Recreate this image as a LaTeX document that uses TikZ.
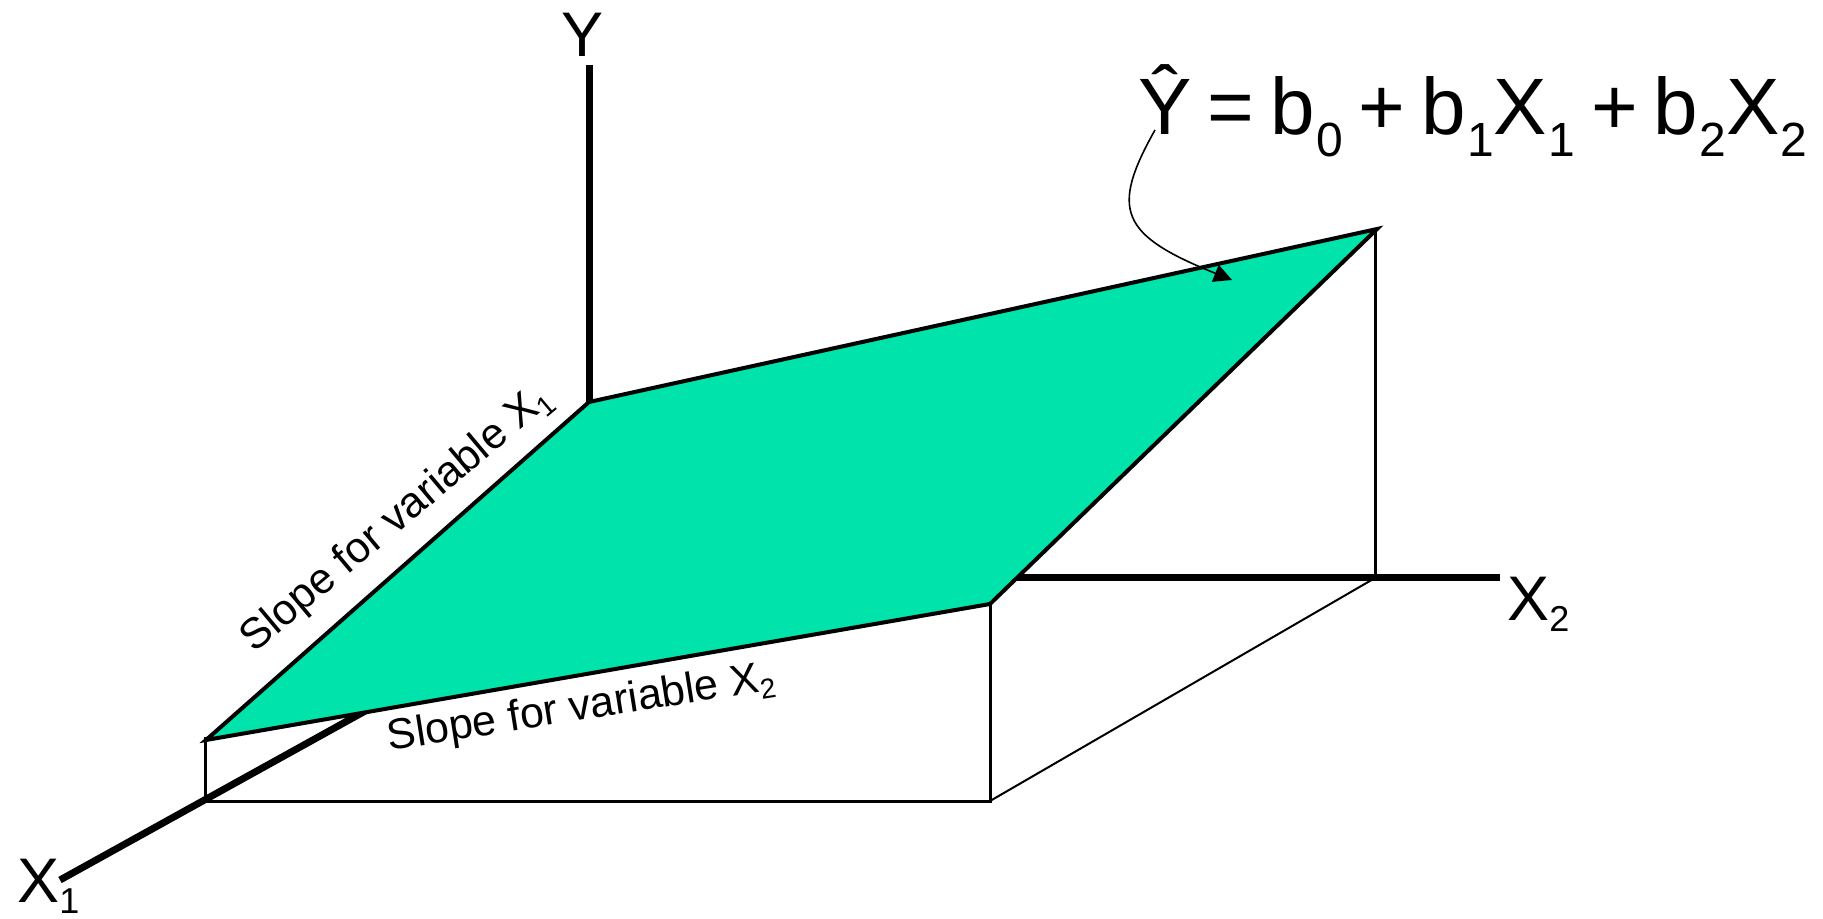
\documentclass[tikz,border=0pt]{standalone}
\usepackage{fontspec}
\setmainfont{Liberation Sans}
\usetikzlibrary{arrows.meta}
\definecolor{planegreen}{RGB}{0,227,170}
\newcommand\lowsub[3]{\raisebox{-#1}{\fontsize{#2}{#2}\selectfont #3}}
\newcommand\eqsub[1]{\hspace{0.6pt}\lowsub{11pt}{24}{#1}}
\begin{document}
\begin{tikzpicture}[x=0.5pt,y=-0.5pt,
  axisline/.style={line width=3.5pt},
  planeedge/.style={line width=2pt, line join=miter},
  boxline/.style={line width=1.5pt},
  thinline/.style={line width=1pt},
  axislbl/.style={inner sep=0pt, font=\fontsize{31.5}{31.5}\selectfont},
  slopelbl/.style={inner sep=0pt, font=\fontsize{21.5}{21.5}\selectfont},
  eqlbl/.style={inner sep=0pt, font=\fontsize{40}{40}\selectfont},
  pointer/.style={line width=0.8pt, -{Triangle[length=9pt,width=9pt]}}
]
\useasboundingbox (0,0) rectangle (1823,919);
% points
\coordinate (ytop) at (589,65);
\coordinate (A) at (589,402);
\coordinate (B) at (1377,229);
\coordinate (C) at (990,604);
\coordinate (D) at (206,740);
\coordinate (Dtop) at (205,737);
\coordinate (E) at (205,801);
\coordinate (F) at (990,801);
\coordinate (Bv) at (1375,229);
\coordinate (G) at (1375,578);
\coordinate (x1end) at (60,880);
\coordinate (x1in) at (600,581);
\coordinate (x2in) at (600,577);
\coordinate (x2end) at (1500,577);
\coordinate (cs) at (1155,130);
\coordinate (ce) at (1232,280);
% box under the plane
\draw[boxline] (Dtop) -- (E) -- (F) -- (C);
\draw[thinline] (F) -- (G);
\draw[boxline] (Bv) -- (G);
% axes
\draw[axisline] (ytop) -- (A);
\draw[axisline] (x1end) -- (x1in);
\draw[axisline] (x2in) -- (x2end);
% plane
\filldraw[fill=planegreen, planeedge] (A) -- (B) -- (C) -- (D) -- cycle;
% pointer
\draw[pointer] (cs) .. controls (1110,210) and (1120,235) .. (ce);
% labels
\node[axislbl, anchor=base] (ylab) at (582,57) {Y};
\node[axislbl, anchor=base west] (x1lab) at (17,902) {X\lowsub{5.5pt}{18}{1}};
\node[axislbl, anchor=base west] (x2lab) at (1507,620) {X\lowsub{5.5pt}{18}{2}};
\node[slopelbl, anchor=base, rotate=40] (s1) at (404,528) {Slope for variable X\lowsub{4pt}{14}{1}};
\node[slopelbl, anchor=base, rotate=9] (s2) at (583,720) {Slope for variable X\lowsub{4pt}{14}{2}};
\node[eqlbl, anchor=base west] (eq) at (1138,135) {Ŷ\hspace{8pt}=\hspace{8pt}b\eqsub{0}\hspace{8pt}+\hspace{8pt}b\eqsub{1}X\eqsub{1}\hspace{8pt}+\hspace{8pt}b\eqsub{2}X\eqsub{2}};
\end{tikzpicture}
\end{document}
